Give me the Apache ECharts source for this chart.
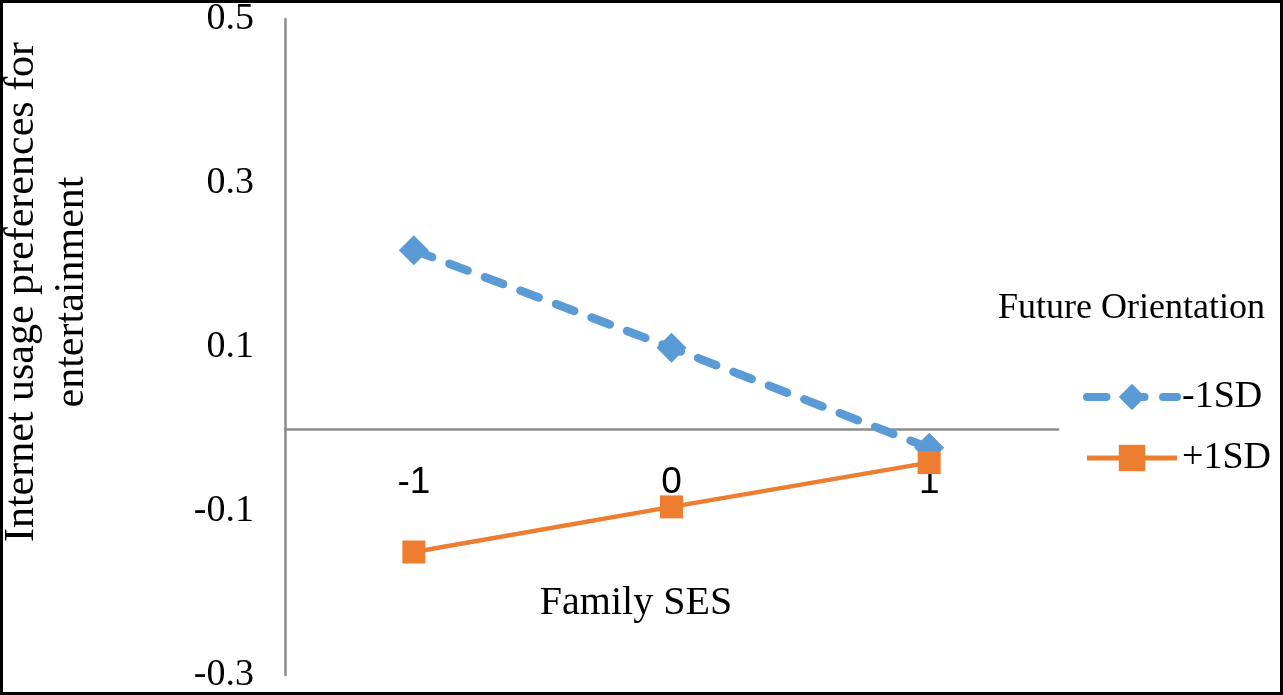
<!DOCTYPE html>
<html>
  <head>
    <meta charset="utf-8" />
    <title>Family SES x Future Orientation</title>
    <script src="https://cdn.jsdelivr.net/npm/echarts@6/dist/echarts.min.js"></script>
    <style>
      html, body { margin: 0; padding: 0; background: #fff; }
      #main { width: 1283px; height: 695px; }
    </style>
  </head>
  <body>
    <div id="main"></div>
    <script>
      // 数据
      var categories = ['-1', '0', '1']
      var lowFO = [0.218, 0.099, -0.023]   // -1SD
      var highFO = [-0.150, -0.095, -0.041] // +1SD
      var yTicks = [-0.3, -0.1, 0.1, 0.3, 0.5]
      var seriesNames = ['-1SD', '+1SD']

      var serif = "'Liberation Serif', 'Times New Roman', serif"
      var sans = "'Liberation Sans', Arial, sans-serif"
      var axisGray = '#8c8c8c'
      var blue = '#5B9BD5'
      var orange = '#ED7D31'

      // 网格：顶部 19，底部 675，零线在 429
      var gridTop = 19
      var gridBottom = 20
      var zeroOffset = -(695 - gridBottom - 429)

      var myChart = echarts.init(document.getElementById('main'))
      var option = {
        animation: false,
        backgroundColor: '#fff',
        title: {
          text: 'Future Orientation',
          left: 993,
          top: 286,
          textStyle: { fontFamily: serif, fontSize: 36, fontWeight: 'normal', color: '#000' }
        },
        legend: {
          data: [
            { name: seriesNames[0], lineStyle: { width: 8 } },
            { name: seriesNames[1], lineStyle: { width: 5 } }
          ],
          orient: 'vertical',
          left: 1078,
          top: 373,
          itemWidth: 90,
          itemHeight: 33,
          itemGap: 23,
          textStyle: { fontFamily: serif, fontSize: 38, color: '#000' }
        },
        grid: { left: 285, right: 225, top: gridTop, bottom: gridBottom, outerBoundsMode: 'none' },
        xAxis: {
          type: 'category',
          data: categories,
          boundaryGap: true,
          offset: zeroOffset,
          axisLine: { onZero: false, lineStyle: { color: axisGray, width: 2.5 } },
          axisTick: { show: false },
          axisLabel: { margin: 35, fontFamily: sans, fontSize: 37, color: '#000' },
          splitLine: { show: false }
        },
        yAxis: {
          type: 'value',
          min: -0.3,
          max: 0.5,
          interval: 0.1,
          axisLine: { show: true, lineStyle: { color: axisGray, width: 2.5 } },
          axisTick: { show: false },
          splitLine: { show: false },
          axisLabel: {
            margin: 31,
            fontFamily: serif,
            fontSize: 38,
            color: '#000',
            formatter: function (v) {
              for (var i = 0; i < yTicks.length; i++) {
                if (Math.abs(yTicks[i] - v) < 1e-6) return String(yTicks[i])
              }
              return ''
            }
          }
        },
        graphic: [
          {
            type: 'text',
            x: 47,
            y: 292,
            rotation: Math.PI / 2,
            style: {
              text: 'Internet usage preferences for\nentertainment',
              font: '42px ' + serif,
              lineHeight: 50,
              fill: '#000',
              align: 'center',
              verticalAlign: 'middle'
            }
          },
          {
            type: 'text',
            x: 636,
            y: 603,
            style: {
              text: 'Family SES',
              font: '40px ' + serif,
              fill: '#000',
              align: 'center',
              verticalAlign: 'middle'
            }
          },
          {
            type: 'rect',
            z: 100,
            shape: { x: 1.5, y: 1.5, width: 1280, height: 692 },
            style: { fill: 'none', stroke: '#000', lineWidth: 3 }
          }
        ],
        series: [
          {
            name: seriesNames[0],
            type: 'line',
            data: lowFO,
            symbol: 'diamond',
            symbolSize: 30,
            itemStyle: { color: blue },
            lineStyle: { color: blue, width: 8.5, type: [19.5, 18.5], cap: 'round' }
          },
          {
            name: seriesNames[1],
            type: 'line',
            data: highFO,
            symbol: 'rect',
            symbolSize: 23,
            itemStyle: { color: orange },
            lineStyle: { color: orange, width: 4.5 }
          }
        ]
      }
      myChart.setOption(option)
    </script>
  </body>
</html>
